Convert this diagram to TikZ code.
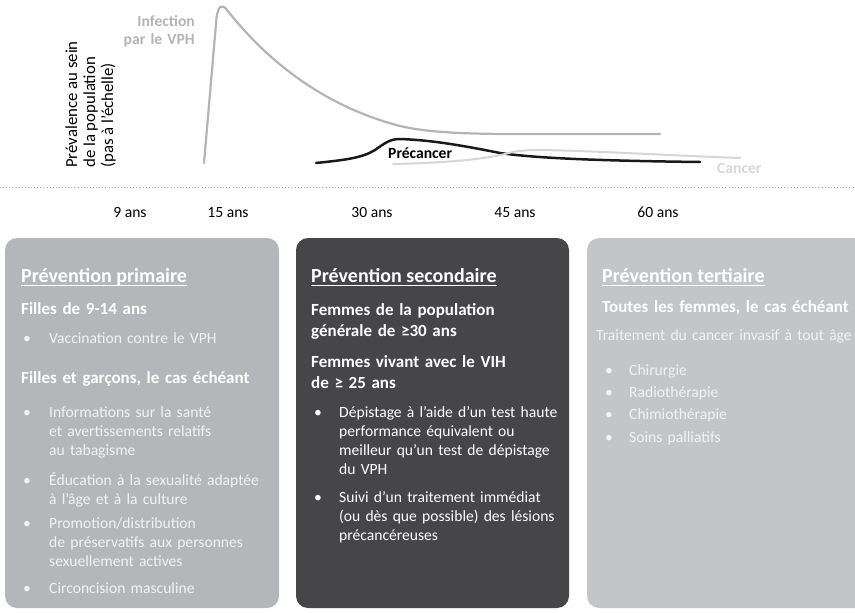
\documentclass[tikz,border=0pt]{standalone}
\usepackage{fontspec}
\setmainfont{Carlito}
\newcommand\fsbody{\fontsize{15.6}{19.3}\selectfont}
\newcommand\fsaxis{\fontsize{16.8}{19}\selectfont}
\newcommand\fssub{\fontsize{17}{21}\selectfont\bfseries}
\newcommand\fshead{\fontsize{20}{24}\selectfont\bfseries}
\newcommand\fslist{\fontsize{15.6}{22.4}\selectfont}
\definecolor{boxA}{HTML}{B5B6B9}
\definecolor{boxB}{HTML}{464648}
\definecolor{boxC}{HTML}{C4C5C7}
\definecolor{infect}{HTML}{B4B4B4}
\definecolor{canc}{HTML}{D6D6D6}
\definecolor{dotc}{HTML}{A8A8A8}
\definecolor{soft}{HTML}{F2F2F3}
\begin{document}
\begin{tikzpicture}[x=1pt,y=-1pt,
  every node/.style={inner sep=0pt},
  body/.style={anchor=base west, text width=270pt, align=left, font=\fsbody},
  sub/.style={anchor=base west, text width=270pt, align=left, font=\fssub},
  head/.style={anchor=base west, font=\fshead},
  blt/.style={anchor=base west, font=\fsbody},
  age/.style={anchor=base, font=\fsbody},
  uline/.style={line width=1.3pt},
  curve/.style={line cap=round, line join=round}]
\useasboundingbox (0,0) rectangle (855,613);

% background panels
\begin{scope}
  \clip (0,0) rectangle (855,613);
  \fill[boxA, rounded corners=12pt] (5,238) rectangle (279,608);
  \fill[boxB, rounded corners=12pt] (296,238) rectangle (569,608);
  \fill[boxC, rounded corners=12pt] (587,238) rectangle (880,608);
\end{scope}

% vertical axis caption
\node[rotate=90, anchor=base west, font=\fsaxis] (ya) at (77,168) {Prévalence au sein};
\node[rotate=90, anchor=base west, font=\fsaxis] (yb) at (95,168) {de la population};
\node[rotate=90, anchor=base west, font=\fsaxis] (yc) at (113,168) {(pas à l’échelle)};

% prevalence curves
\draw[infect, line width=2.2pt, curve] (204,163) -- (216.5,18)
  .. controls (218,6) and (222,3) .. (227,10)
  .. controls (265,58) and (320,105) .. (400,126)
  .. controls (430,133) and (470,134) .. (520,134) -- (660,134);
\draw[black!90, line width=2.5pt, curve] (316,163)
  .. controls (345,160) and (362,158) .. (375,150)
  .. controls (385,143) and (390,139) .. (400,139)
  .. controls (430,140) and (460,145) .. (500,153)
  .. controls (540,159) and (620,161) .. (700,162);
\draw[canc, line width=2pt, curve] (393,164)
  .. controls (440,163) and (480,160) .. (505,154)
  .. controls (515,151) and (525,150) .. (540,150)
  .. controls (600,151) and (680,156) .. (740,158);

\node[anchor=base east, text width=80pt, align=right, font=\fsbody\bfseries, text=infect] (inf) at (195,27) {Infection\\[-1.3pt]par le VPH};
\node[anchor=base west, font=\fsbody\bfseries] (pre) at (388,158) {Précancer};
\node[anchor=base west, font=\fsbody\bfseries, text=canc] (can) at (717,173) {Cancer};

% age axis
\draw[dotc, line width=0.9pt, dash pattern=on 0.9pt off 2.2pt] (0,187) -- (855,187);
\node[age] (a9) at (130,217) {9 ans};
\node[age] (a15) at (228,217) {15 ans};
\node[age] (a30) at (372,217) {30 ans};
\node[age] (a45) at (515,217) {45 ans};
\node[age] (a60) at (658,217) {60 ans};

\begin{scope}[every node/.append style={text=white}]
% primary prevention
  \node[head] (h1) at (21,282) {Prévention primaire};
  \draw[white, uline] ([yshift=-3.5pt]h1.base west) -- ([yshift=-3.5pt]h1.base east);
  \node[sub] (g1) at (21,314) {Filles de 9-14 ans};
  \node[blt, text=soft] (b11) at (23,343) {•};
  \node[body, text=soft] (t11) at (49,343) {Vaccination contre le VPH};
  \node[sub] (g2) at (21,383) {Filles et garçons, le cas échéant};
  \node[blt, text=soft] (b12) at (23,417) {•};
  \node[body, text=soft] (t12) at (49,417) {Informations sur la santé\\et avertissements relatifs\\au tabagisme};
  \node[blt, text=soft] (b13) at (23,485) {•};
  \node[body, text=soft] (t13) at (49,485) {Éducation à la sexualité adaptée\\à l’âge et à la culture};
  \node[blt, text=soft] (b14) at (23,528) {•};
  \node[body, text=soft] (t14) at (49,528) {Promotion/distribution\\de préservatifs aux personnes\\sexuellement actives};
  \node[blt, text=soft] (b15) at (23,593) {•};
  \node[body, text=soft] (t15) at (49,593) {Circoncision masculine};

% secondary prevention
  \node[head] (h2) at (311,282) {Prévention secondaire};
  \draw[white, uline] ([yshift=-3.5pt]h2.base west) -- ([yshift=-3.5pt]h2.base east);
  \node[sub] (g3) at (311,315) {Femmes de la population\\générale de ≥30 ans};
  \node[sub] (g4) at (311,367) {Femmes vivant avec le VIH\\de ≥ 25 ans};
  \node[blt] (b21) at (314,417) {•};
  \node[body] (t21) at (339,417) {Dépistage à l’aide d’un test haute\\performance équivalent ou\\meilleur qu’un test de dépistage\\du VPH};
  \node[blt] (b22) at (314,502) {•};
  \node[body] (t22) at (339,502) {Suivi d’un traitement immédiat\\(ou dès que possible) des lésions\\précancéreuses};

% tertiary prevention
  \node[head] (h3) at (602,282) {Prévention tertiaire};
  \draw[white, uline] ([yshift=-3.5pt]h3.base west) -- ([yshift=-3.5pt]h3.base east);
  \node[sub] (g5) at (602,312) {Toutes les femmes, le cas échéant};
  \node[body, text=soft] (t30) at (596,340) {Traitement du cancer invasif à tout âge};
  \node[anchor=base west, text width=20pt, align=left, font=\fslist, text=soft] (b3) at (605,375) {•\\•\\•\\•};
  \node[anchor=base west, text width=200pt, align=left, font=\fslist, text=soft] (t3) at (629,375) {Chirurgie\\Radiothérapie\\Chimiothérapie\\Soins palliatifs};
\end{scope}
\end{tikzpicture}
\end{document}
